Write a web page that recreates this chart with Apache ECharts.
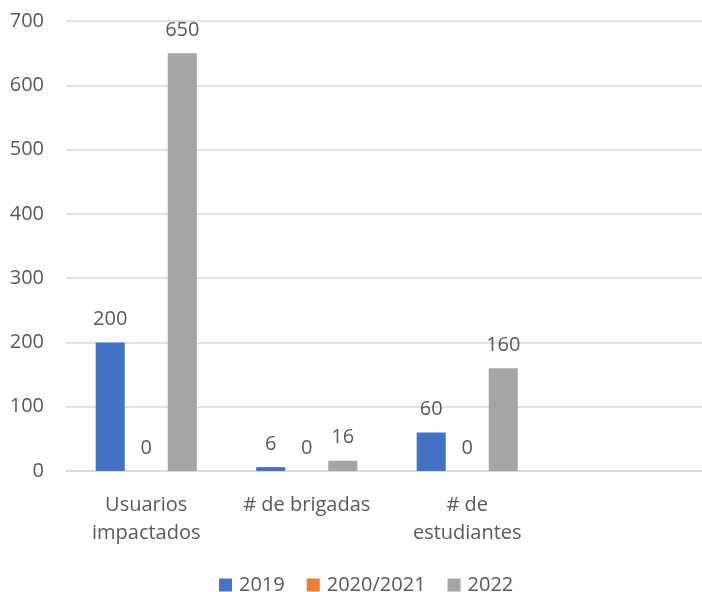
<!DOCTYPE html>
<html>
<head>
<meta charset="utf-8">
<script src="https://cdn.jsdelivr.net/npm/echarts@6/dist/echarts.min.js"></script>
<style>html,body{margin:0;padding:0;background:#fff}#c{width:702px;height:592px}</style>
</head>
<body>
<div id="c"></div>
<script>
const categories = ['Usuarios\nimpactados', '# de brigadas', '# de\nestudiantes', ''];
const seriesNames = ['2019', '2020/2021', '2022'];
const values2019 = [200, 6, 60, null];
const values2020 = [0, 0, 0, null];
const values2022 = [650, 16, 160, null];
const colors = ['#4472C4', '#ED7D31', '#A5A5A5'];
const FONT = 'Open Sans';
const TXT = '#595959';

const chart = echarts.init(document.getElementById('c'));
const mk = (name, data, color) => ({
  name, type: 'bar', data,
  itemStyle: { color },
  barGap: '24%', barCategoryGap: '37%',
  label: { show: true, position: 'top', distance: 13, color: TXT, fontFamily: FONT, fontSize: 20 }
});
chart.setOption({
  animation: false,
  textStyle: { fontFamily: FONT },
  grid: { left: 66, right: -6, top: 21, bottom: 121, outerBoundsMode: 'none', containLabel: false },
  legend: {
    left: 214, top: 570, icon: 'rect', itemWidth: 13, itemHeight: 13, itemGap: 22,
    textStyle: { color: TXT, fontFamily: FONT, fontSize: 20, padding: [0, 0, 0, 2] },
    data: seriesNames
  },
  xAxis: {
    type: 'category', data: categories,
    axisLine: { lineStyle: { color: '#D9D9D9', width: 1.5 } },
    axisTick: { show: false },
    axisLabel: { color: TXT, fontFamily: FONT, fontSize: 20, lineHeight: 28, margin: 20, interval: 0 }
  },
  yAxis: {
    type: 'value', min: 0, max: 700, interval: 100,
    axisLine: { show: false }, axisTick: { show: false },
    splitLine: { lineStyle: { color: '#D9D9D9', width: 1.5 } },
    axisLabel: { color: TXT, fontFamily: FONT, fontSize: 20, margin: 22 }
  },
  series: [
    mk(seriesNames[0], values2019, colors[0]),
    mk(seriesNames[1], values2020, colors[1]),
    mk(seriesNames[2], values2022, colors[2])
  ]
});
</script>
</body>
</html>
